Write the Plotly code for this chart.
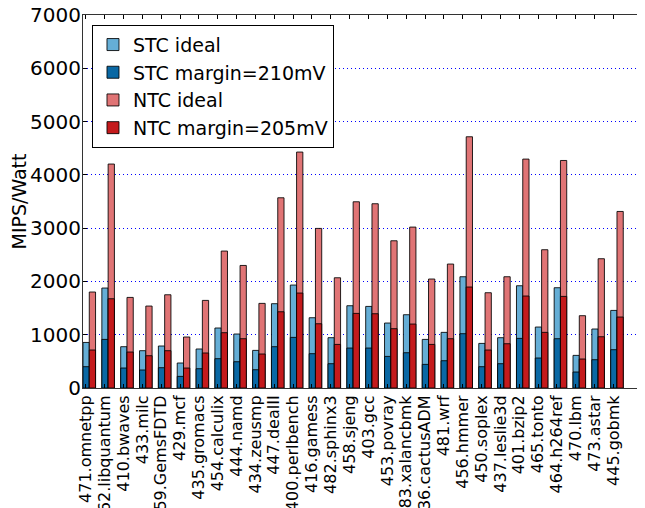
import plotly.graph_objects as go

benchmarks = ["471.omnetpp", "462.libquantum", "410.bwaves", "433.milc", "459.GemsFDTD",
              "429.mcf", "435.gromacs", "454.calculix", "444.namd", "434.zeusmp",
              "447.dealII", "400.perlbench", "416.gamess", "482.sphinx3", "458.sjeng",
              "403.gcc", "453.povray", "483.xalancbmk", "436.cactusADM", "481.wrf",
              "456.hmmer", "450.soplex", "437.leslie3d", "401.bzip2", "465.tonto",
              "464.h264ref", "470.lbm", "473.astar", "445.gobmk"]

stc_ideal = [855, 1876, 775, 700, 788, 469, 732, 1126, 1013, 706,
             1582, 1932, 1319, 944, 1544, 1531, 1219, 1375, 912, 1044,
             2088, 837, 944, 1919, 1144, 1882, 612, 1107, 1456]
stc_margin = [400, 912, 375, 338, 381, 218, 362, 550, 493, 343,
              775, 950, 644, 456, 750, 750, 593, 662, 443, 512,
              1019, 400, 456, 931, 563, 925, 300, 531, 719]
ntc_ideal = [1801, 4203, 1700, 1538, 1750, 957, 1644, 2570, 2300, 1588,
             3570, 4428, 2995, 2069, 3495, 3458, 2763, 3020, 2045, 2326,
             4715, 1788, 2088, 4296, 2595, 4270, 1357, 2426, 3313]
ntc_margin = [713, 1675, 675, 606, 700, 375, 657, 1038, 925, 638,
              1431, 1782, 1206, 818, 1400, 1394, 1113, 1200, 818, 925,
              1895, 713, 831, 1726, 1044, 1719, 544, 962, 1332]

y_ticks = [0, 1000, 2000, 3000, 4000, 5000, 6000, 7000]

W = 1 / 3
idx = list(range(len(benchmarks)))
x_stc = [i + W / 2 for i in idx]
x_ntc = [i + 1.5 * W for i in idx]
edge = dict(color="rgba(0,0,0,0.85)", width=1)

fig = go.Figure()
fig.add_trace(go.Bar(x=x_stc, y=stc_ideal, width=W, name="STC ideal",
                     marker=dict(color="#65aed6", line=edge)))
fig.add_trace(go.Bar(x=x_stc, y=stc_margin, width=W, name="STC margin=210mV",
                     marker=dict(color="#0a68a4", line=edge)))
fig.add_trace(go.Bar(x=x_ntc, y=ntc_ideal, width=W, name="NTC ideal",
                     marker=dict(color="#e07475", line=edge)))
fig.add_trace(go.Bar(x=x_ntc, y=ntc_margin, width=W, name="NTC margin=205mV",
                     marker=dict(color="#c41a1c", line=edge)))

# the page body has an 8px margin, so the figure is sized to fill the rest of the window
fig.update_layout(
    width=637, height=500,
    margin=dict(l=75, r=0, t=7, b=120),
    barmode="overlay",
    plot_bgcolor="white", paper_bgcolor="white",
    font=dict(family="DejaVu Sans", color="black"),
    showlegend=True,
    legend=dict(x=0.016, y=0.974, xanchor="left", yanchor="top",
                bgcolor="white", bordercolor="black", borderwidth=1,
                font=dict(size=19, family="DejaVu Sans"), traceorder="normal",
                tracegroupgap=0),
    xaxis=dict(range=[0, 29.82], tickmode="array",
               tickvals=[i + 0.15 for i in idx], ticktext=benchmarks,
               tickangle=-90, tickfont=dict(size=16),
               ticks="inside", ticklen=4, tickcolor="black",
               showline=True, linecolor="#333333", linewidth=1, mirror="ticks",
               showgrid=False, zeroline=False, automargin=False,
               ticklabeloverflow="allow"),
    yaxis=dict(range=[0, 7000], tickmode="array", tickvals=y_ticks,
               tickfont=dict(size=20), ticks="inside", ticklen=4, tickcolor="black",
               ticklabelstandoff=-3, ticklabeloverflow="allow",
               showline=True, linecolor="#333333", linewidth=1, mirror=False,
               showgrid=True, gridcolor="blue", griddash="1px,3px", gridwidth=1,
               zeroline=False, automargin=False,
               title=dict(text="MIPS/Watt", font=dict(size=19), standoff=0)),
)

fig.write_html("out.html")
